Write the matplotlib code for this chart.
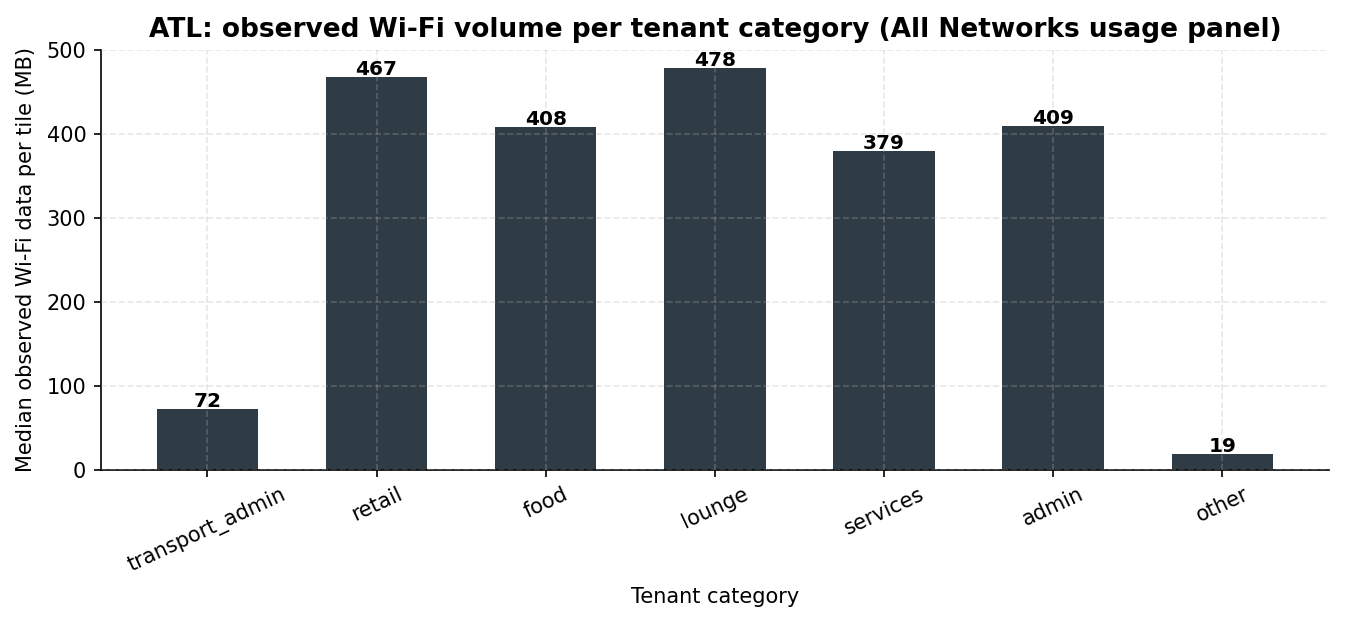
import matplotlib
matplotlib.use("Agg")
import matplotlib.pyplot as plt

categories = ["transport_admin", "retail", "food", "lounge", "services", "admin", "other"]
median_mb = [72, 467, 408, 478, 379, 409, 19]

fig, ax = plt.subplots(figsize=(1345 / 150, 622 / 150), dpi=150)

bars = ax.bar(categories, median_mb, width=0.6, color="#2f3c46")

# value labels sit right on the bar top
for bar, v in zip(bars, median_mb):
    ax.annotate(f"{v}", (bar.get_x() + bar.get_width() / 2, bar.get_height()),
                xytext=(0, 1), textcoords="offset points",
                ha="center", va="baseline", fontsize=9.7, fontweight="bold")

ax.set_ylim(0, 500)
ax.set_title("ATL: observed Wi-Fi volume per tenant category (All Networks usage panel)",
             fontsize=12.7, fontweight="bold")
ax.set_xlabel("Tenant category", labelpad=5.5)
ax.set_ylabel("Median observed Wi-Fi data per tile (MB)", labelpad=5)
plt.setp(ax.get_xticklabels(), rotation=25)

ax.grid(True, linestyle="--", alpha=0.3)
ax.set_axisbelow(False)
ax.spines["top"].set_visible(False)
ax.spines["right"].set_visible(False)

fig.subplots_adjust(left=0.075, right=0.988, top=0.92, bottom=0.245)
fig.savefig("out.png", dpi=150)
